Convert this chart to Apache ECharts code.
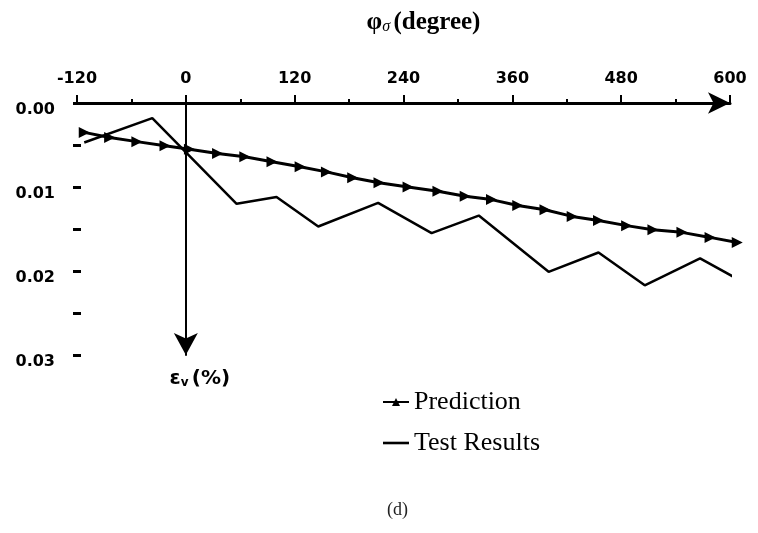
<!DOCTYPE html>
<html>
<head>
<meta charset="utf-8">
<script src="https://cdn.jsdelivr.net/npm/echarts@6/dist/echarts.min.js"></script>
<style>
  html, body { margin: 0; padding: 0; background: #fff; }
  #chart { width: 758px; height: 533px; }
</style>
</head>
<body>
<div id="chart"></div>
<script>
// Rotation angle (degree) vs. volumetric strain (%)
const predictionPhi = [-112, -84, -54, -23, 4, 35, 65, 95, 126, 155, 184, 213, 245, 278, 308, 337, 366, 396, 426, 455, 486, 515, 547, 578, 608];
const predictionStrain = [0.0035, 0.0041, 0.0046, 0.0051, 0.0055, 0.0060, 0.0064, 0.0070, 0.0076, 0.0082, 0.0089, 0.0095, 0.0100, 0.0105, 0.0111, 0.0115, 0.0122, 0.0127, 0.0135, 0.0140, 0.0146, 0.0151, 0.0154, 0.0160, 0.0166];

const testPhi = [-112, -37, 56, 100, 146, 212, 271, 323, 400, 455, 506, 567, 609];
const testStrain = [0.0047, 0.0018, 0.0120, 0.0112, 0.0147, 0.0119, 0.0155, 0.0134, 0.0201, 0.0178, 0.0217, 0.0185, 0.0210];

const seriesNames = ['Prediction', 'Test Results'];

const pairs = (xs, ys) => xs.map((x, i) => [x, ys[i]]);

const chart = echarts.init(document.getElementById('chart'), null, { renderer: 'canvas' });

const axisFont = { fontFamily: 'DejaVu Sans', fontWeight: 'bold', fontSize: 16, color: '#000' };

chart.setOption({
  animation: false,
  backgroundColor: '#fff',
  grid: { left: 77, right: 28, top: 103, bottom: 178 },
  title: {
    text: '(d)',
    left: 382,
    top: 496,
    textStyle: { fontFamily: 'Liberation Serif', fontWeight: 'normal', fontSize: 18, color: '#222' }
  },
  legend: {
    data: [
      { name: seriesNames[0] },
      { name: seriesNames[1], icon: 'path://M0,0 H26 V2.6 H0 Z' }
    ],
    orient: 'vertical',
    left: 377,
    top: 384,
    itemWidth: 26,
    itemHeight: 10,
    itemGap: 15,
    symbolRotate: 0,
    textStyle: { fontFamily: 'Liberation Serif', fontSize: 26, color: '#000' }
  },
  xAxis: {
    type: 'value',
    position: 'top',
    min: -120,
    max: 600,
    interval: 120,
    name: '{phi|φ}{sub|σ} {txt|(degree)}',
    nameLocation: 'middle',
    nameGap: 68,
    nameTextStyle: {
      padding: [0, 0, 0, 40],
      rich: {
        phi: { fontFamily: 'Liberation Serif', fontWeight: 'bold', fontSize: 25, color: '#000' },
        sub: { fontFamily: 'Liberation Serif', fontStyle: 'italic', fontSize: 16, color: '#000', padding: [9, 0, 0, 0] },
        txt: { fontFamily: 'Liberation Serif', fontWeight: 'bold', fontSize: 25, color: '#000' }
      }
    },
    axisLine: {
      show: true,
      onZero: false,
      symbol: ['none', 'arrow'],
      symbolSize: [16, 22],
      symbolOffset: [0, 0],
      lineStyle: { color: '#000', width: 3 }
    },
    axisTick: { show: true, inside: false, length: 8, lineStyle: { color: '#000', width: 2 } },
    minorTick: { show: true, splitNumber: 2, length: 4, lineStyle: { color: '#000', width: 2 } },
    axisLabel: Object.assign({ margin: 16 }, axisFont),
    splitLine: { show: false }
  },
  yAxis: [
    {
      type: 'value',
      inverse: true,
      min: 0,
      max: 0.03,
      interval: 0.005,
      position: 'left',
      offset: -4,
      axisLine: { show: false, onZero: false },
      axisTick: { show: true, length: 8, lineStyle: { color: '#000', width: 3 } },
      axisLabel: Object.assign({
        margin: 26,
        verticalAlign: 'top',
        lineHeight: 14,
        formatter: v => (Math.round(v * 1000) % 10 === 0 ? v.toFixed(2) : '')
      }, axisFont),
      splitLine: { show: false }
    },
    {
      type: 'value',
      inverse: true,
      min: 0,
      max: 0.03,
      interval: 0.005,
      name: '{eps|ε}{sub|v} {txt|(%)}',
      nameLocation: 'end',
      nameGap: 14,
      nameTextStyle: {
        padding: [0, 0, 0, 28],
        rich: {
          eps: { fontFamily: 'DejaVu Sans', fontWeight: 'bold', fontSize: 20, color: '#000' },
          sub: { fontFamily: 'DejaVu Sans', fontWeight: 'bold', fontSize: 12, color: '#000', padding: [8, 0, 0, 0] },
          txt: { fontFamily: 'DejaVu Sans', fontWeight: 'bold', fontSize: 20, color: '#000' }
        }
      },
      axisLine: {
        show: true,
        onZero: true,
        symbol: ['arrow', 'none'],
        symbolSize: [18, 22],
        symbolOffset: [0, 0],
        lineStyle: { color: '#000', width: 2 }
      },
      axisTick: { show: false },
      axisLabel: { show: false },
      splitLine: { show: false }
    }
  ],
  series: [
    {
      name: seriesNames[0],
      type: 'line',
      yAxisIndex: 0,
      data: pairs(predictionPhi, predictionStrain),
      clip: false,
      symbol: 'triangle',
      symbolRotate: -90,
      symbolSize: 11,
      showAllSymbol: true,
      lineStyle: { color: '#000', width: 3 },
      itemStyle: { color: '#000' },
      z: 3
    },
    {
      name: seriesNames[1],
      type: 'line',
      yAxisIndex: 0,
      data: pairs(testPhi, testStrain),
      clip: false,
      symbol: 'none',
      lineStyle: { color: '#000', width: 2.5 },
      itemStyle: { color: '#000' },
      z: 2
    }
  ]
});
</script>
</body>
</html>
